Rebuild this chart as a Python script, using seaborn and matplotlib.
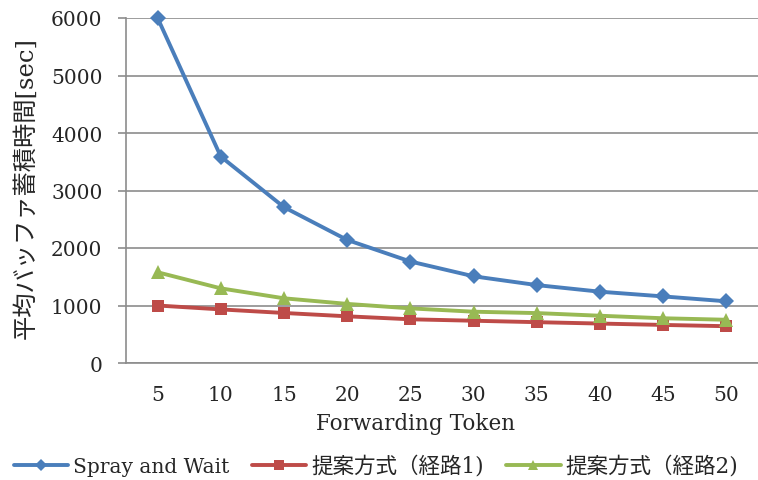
import numpy as np
import pandas as pd
import matplotlib
matplotlib.use("Agg")
import matplotlib.pyplot as plt
import seaborn as sns

# Forwarding token counts (category axis)
tokens = [5, 10, 15, 20, 25, 30, 35, 40, 45, 50]

# Average buffer occupancy time [sec]
spray_and_wait = [6000, 3590, 2710, 2140, 1765, 1508, 1355, 1240, 1158, 1073]
proposed_route1 = [1000, 932, 870, 812, 760, 735, 710, 686, 662, 640]
proposed_route2 = [1578, 1298, 1125, 1028, 950, 892, 868, 822, 778, 752]

series_names = ["Spray and Wait", "提案方式（経路1)", "提案方式（経路2)"]
y_ticks = [0, 1000, 2000, 3000, 4000, 5000, 6000]

sns.set_theme(style="white")
plt.rcParams["font.family"] = ["DejaVu Serif", "Noto Sans CJK JP"]

pos = np.arange(len(tokens))
df = pd.concat([
    pd.DataFrame({"pos": pos, "value": vals, "series": name})
    for name, vals in zip(series_names, [spray_and_wait, proposed_route1, proposed_route2])
])

colors = ["#4A7EBB", "#BE4B48", "#98B954"]
markers = ["D", "s", "^"]
msizes = [8.5, 9, 10]

fig = plt.figure(figsize=(7.58, 4.81), dpi=100)
ax = fig.add_axes([126 / 758, 1 - 364 / 481, (758 - 126) / 758, (364 - 19) / 481])

for name, col, mk, ms in zip(series_names, colors, markers, msizes):
    sub = df[df["series"] == name]
    sns.lineplot(data=sub, x="pos", y="value", ax=ax, color=col, linewidth=2.8,
                 marker=mk, markersize=ms, markeredgewidth=0, label=name,
                 clip_on=False, zorder=3)

ax.set_xlim(-0.5, len(tokens) - 0.5)
ax.set_ylim(0, 6000)
ax.set_xticks(pos, [str(t) for t in tokens])
ax.set_yticks(y_ticks, [str(t) for t in y_ticks])
ax.yaxis.grid(True, color="#8C8C8C", linewidth=1.2)
ax.set_axisbelow(True)

for side in ["top", "right"]:
    ax.spines[side].set_visible(False)
for side in ["left", "bottom"]:
    ax.spines[side].set_color("#8C8C8C")
    ax.spines[side].set_linewidth(1.2)

ax.tick_params(axis="y", which="major", direction="out", length=6, width=1.2,
               color="#8C8C8C", labelsize=14.5, pad=11, left=True)
ax.tick_params(axis="x", which="major", length=0, labelsize=14.5, pad=16)
ax.set_xlabel("")
ax.set_ylabel("")

fig.text(416 / 758, 1 - 424 / 481, "Forwarding Token", ha="center", va="center", fontsize=15.5)
fig.text(26 / 758, 1 - 188 / 481, "平均バッファ蓄積時間[sec]", ha="center", va="center",
         rotation=90, fontsize=17.5)

handles, labels = ax.get_legend_handles_labels()
ax.get_legend().remove()
leg = fig.legend(handles, labels, loc="center left", bbox_to_anchor=(14 / 758, 1 - 467 / 481),
                 ncol=3, frameon=False, fontsize=14.5, handlelength=2.7, columnspacing=1.1,
                 handletextpad=0.25, borderaxespad=0, borderpad=0)
for t in leg.get_texts()[1:]:
    t.set_fontsize(15.5)
for h in leg.legend_handles:
    h.set_markersize(6.5)

fig.savefig("out.png", dpi=100, facecolor="white")
